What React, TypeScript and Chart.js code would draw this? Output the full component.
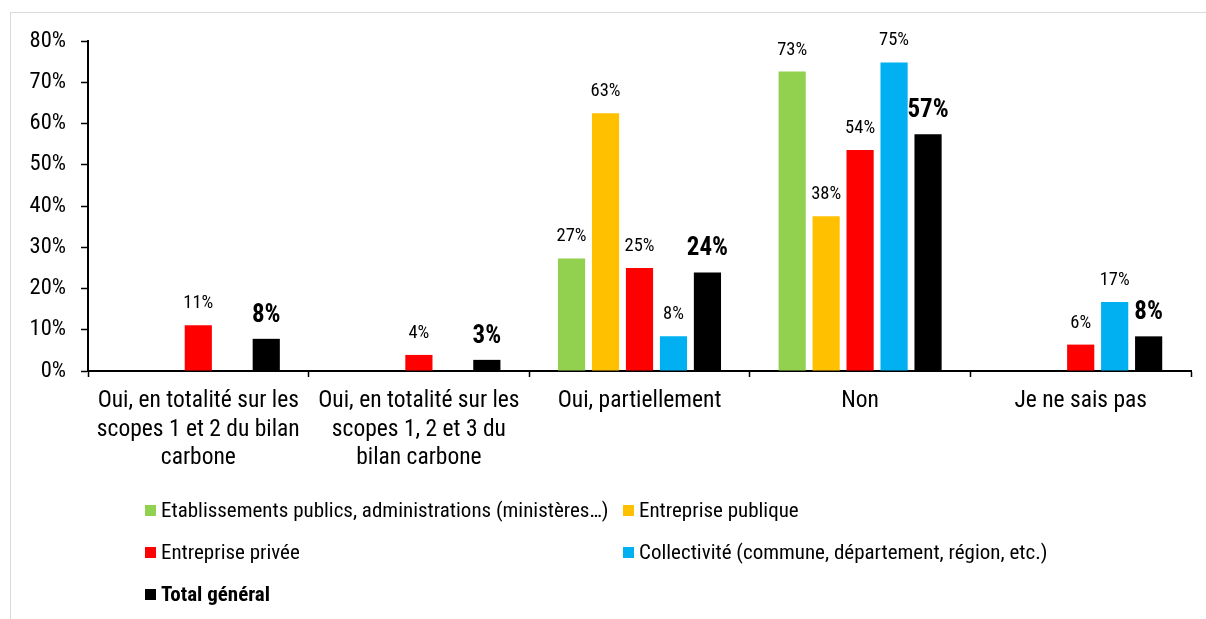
import React, { useEffect, useRef } from "react";
import { Chart, registerables } from "chart.js";

Chart.register(...registerables);

const categories: (string | string[])[] = [
  ["Oui, en totalité sur les", "scopes 1 et 2 du bilan", "carbone"],
  ["Oui, en totalité sur les", "scopes 1, 2 et 3 du", "bilan carbone"],
  "Oui, partiellement",
  "Non",
  "Je ne sais pas",
];

const seriesNames = [
  "Etablissements publics, administrations (ministères…)",
  "Entreprise publique",
  "Entreprise privée",
  "Collectivité (commune, département, région, etc.)",
  "Total général",
];

const seriesColors = ["#92D050", "#FFC000", "#FF0000", "#00B0F0", "#000000"];

const etablissementsPublics = [null, null, 27.3, 72.6, null];
const entreprisePublique = [null, null, 62.5, 37.5, null];
const entreprisePrivee = [11.1, 3.9, 25.0, 53.6, 6.4];
const collectivite = [null, null, 8.4, 74.8, 16.7];
const totalGeneral = [7.8, 2.7, 23.9, 57.4, 8.4];

const yTicks = [0, 10, 20, 30, 40, 50, 60, 70, 80];

const FONT = "'Roboto Condensed', Roboto, 'Noto Sans', sans-serif";

const valueLabels = {
  id: "valueLabels",
  afterDatasetsDraw(chart: any) {
    const ctx = chart.ctx;
    chart.data.datasets.forEach((ds: any, i: number) => {
      const meta = chart.getDatasetMeta(i);
      const bold = i === 4;
      ctx.save();
      ctx.font = bold ? `condensed bold 25px ${FONT}` : `condensed 18.5px ${FONT}`;
      ctx.fillStyle = "#000";
      ctx.textAlign = "center";
      ctx.textBaseline = "alphabetic";
      meta.data.forEach((el: any, j: number) => {
        const v = ds.data[j];
        if (v == null) return;
        ctx.fillText(Math.round(v) + "%", el.x, el.y - 17);
      });
      ctx.restore();
    });
  },
};

export default function App() {
  const ref = useRef<HTMLCanvasElement>(null);

  useEffect(() => {
    if (!ref.current) return;
    const allSeries = [
      etablissementsPublics,
      entreprisePublique,
      entreprisePrivee,
      collectivite,
      totalGeneral,
    ];
    const chart = new Chart(ref.current, {
      type: "bar",
      data: {
        labels: categories,
        datasets: allSeries.map((d, i) => ({
          label: seriesNames[i],
          data: d,
          backgroundColor: seriesColors[i],
          borderWidth: 0,
          categoryPercentage: 0.77,
          barPercentage: 0.8,
        })),
      },
      options: {
        responsive: false,
        animation: false,
        devicePixelRatio: 1,
        layout: { padding: { left: 0, top: 33, right: 7, bottom: 0 } },
        plugins: {
          legend: { display: false },
          tooltip: { enabled: false },
        },
        scales: {
          x: {
            grid: {
              display: true,
              offset: true,
              drawOnChartArea: false,
              drawTicks: true,
              tickLength: 6,
              tickColor: "#000",
              tickWidth: 1.5,
            },
            border: { display: true, color: "#000", width: 2 },
            ticks: {
              autoSkip: false,
              maxRotation: 0,
              minRotation: 0,
              padding: 10,
              color: "#000",
              font: { family: FONT, size: 23.5, weight: "condensed 400", lineHeight: 1.213 },
            },
            afterFit(scale: any) {
              scale.height = 240;
            },
          },
          y: {
            min: 0,
            max: 80,
            afterBuildTicks(scale: any) {
              scale.ticks = yTicks.map((v) => ({ value: v }));
            },
            grid: {
              display: true,
              drawOnChartArea: false,
              drawTicks: true,
              tickLength: 7,
              tickColor: "#000",
              tickWidth: 1.5,
            },
            border: { display: true, color: "#000", width: 2 },
            ticks: {
              padding: 15,
              color: "#000",
              font: { family: FONT, size: 22.5, weight: "condensed 400" },
              callback: (v: any) => v + "%",
            },
            afterFit(scale: any) {
              scale.width = 80;
            },
          },
        },
      },
      plugins: [valueLabels],
    });
    return () => chart.destroy();
  }, []);

  const legendRows = [
    { i: 0, left: 137, center: 502 },
    { i: 1, left: 615, center: 502 },
    { i: 2, left: 137, center: 544 },
    { i: 3, left: 615, center: 544 },
    { i: 4, left: 137, center: 586 },
  ];

  return (
    <div
      style={{
        position: "relative",
        width: 1190,
        height: 603,
        overflow: "hidden",
        fontFamily: FONT,
      }}
    >
      <div
        style={{
          position: "fixed",
          left: 10,
          top: 12,
          width: 1210,
          height: 640,
          border: "1px solid #d9d9d9",
          boxSizing: "border-box",
        }}
      />
      <canvas
        ref={ref}
        width={1190}
        height={603}
        style={{ position: "absolute", left: 0, top: 0, width: 1190, height: 603 }}
      />
      {legendRows.map((r) => (
        <div
          key={r.i}
          style={{
            position: "absolute",
            left: r.left,
            top: r.center - 12,
            height: 24,
            display: "flex",
            alignItems: "center",
            whiteSpace: "nowrap",
            fontSize: 21,
            fontStretch: "condensed",
            lineHeight: "24px",
            color: "#000",
            fontWeight: r.i === 4 ? "bold" : "normal",
          }}
        >
          <span
            style={{
              display: "inline-block",
              width: 11,
              height: 11,
              background: seriesColors[r.i],
              marginRight: 5,
            }}
          />
          <span>{seriesNames[r.i]}</span>
        </div>
      ))}
    </div>
  );
}
